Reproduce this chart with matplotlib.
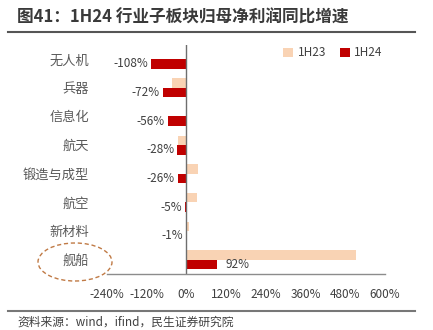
import matplotlib.pyplot as plt
from matplotlib.patches import Ellipse
from matplotlib.lines import Line2D
from matplotlib.ticker import FuncFormatter

plt.rcParams['font.family'] = ['Noto Sans CJK SC', 'DejaVu Sans']

# data
categories = ['无人机', '兵器', '信息化', '航天', '锻造与成型', '航空', '新材料', '舰船']
growth_1h23 = [3, -42, -1, -24, 36, 33, 9, 513]
growth_1h24 = [-108, -72, -56, -28, -26, -5, -1, 92]
x_ticks = [-240, -120, 0, 120, 240, 360, 480, 600]

c23 = '#F9D3B4'
c24 = '#C00000'
txt = '#404040'

fig = plt.figure(figsize=(4.33, 3.30), dpi=100)
ax = fig.add_axes([0.247, 0.170, 0.642, 0.694])

pos = list(range(len(categories)))
h = 0.33
ax.barh([p - h / 2 for p in pos], growth_1h23, height=h, color=c23, label='1H23')
ax.barh([p + h / 2 for p in pos], growth_1h24, height=h, color=c24, label='1H24')

# value labels for 1H24
for p, v in zip(pos, growth_1h24):
    if v < 0:
        ax.annotate(f'{v}%', (v, p + h / 2), xytext=(-2, 0), textcoords='offset points',
                    ha='right', va='center', fontsize=8.5, color=txt)
    else:
        ax.annotate(f'{v}%', (v, p + h / 2), xytext=(6, 0), textcoords='offset points',
                    ha='left', va='center', fontsize=8.5, color=txt)

ax.set_xlim(-240, 600)
ax.set_ylim(len(categories) - 0.5, -0.5)
ax.set_xticks(x_ticks)
ax.xaxis.set_major_formatter(FuncFormatter(lambda v, _: f'{int(v)}%'))
ax.set_yticks(pos)
ax.set_yticklabels(categories, fontsize=9.5, color='#595959', fontweight='light')
ax.tick_params(axis='y', length=0, pad=13)
ax.tick_params(axis='x', length=0, pad=10, labelsize=8.5, labelcolor=txt)

for s in ['top', 'right', 'left']:
    ax.spines[s].set_visible(False)
ax.spines['bottom'].set_color('#8c8c8c')
ax.spines['bottom'].set_linewidth(1)
ax.axvline(0, color='#6e6e6e', lw=1)

ax.legend(loc='upper right', bbox_to_anchor=(1.03, 1.04), ncol=2, frameon=False,
          fontsize=8.5, handlelength=0.8, handleheight=0.8, handletextpad=0.4,
          columnspacing=1.2, labelcolor=txt)

# dashed ellipse around 舰船
fig.patches.append(Ellipse((75 / 433, 1 - 262 / 330), 74 / 433, 38 / 330,
                           transform=fig.transFigure, fill=False,
                           edgecolor='#C07A45', lw=1, ls=(0, (3, 2))))

# title, rules, source
fig.text(17 / 433, 1 - 18 / 330, '图41：1H24 行业子板块归母净利润同比增速',
         fontsize=12, fontweight='bold', color='#3a3a3a', va='center')
fig.add_artist(Line2D([8 / 433, 415 / 433], [1 - 32 / 330, 1 - 32 / 330],
                      color='#555555', lw=1.5, transform=fig.transFigure))
fig.add_artist(Line2D([8 / 433, 415 / 433], [1 - 311 / 330, 1 - 311 / 330],
                      color='#777777', lw=1.5, transform=fig.transFigure))
fig.text(17 / 433, 1 - 322 / 330, '资料来源：wind，ifind，民生证券研究院',
         fontsize=8.5, color='#404040', va='center')

fig.savefig('out.png', dpi=100)
